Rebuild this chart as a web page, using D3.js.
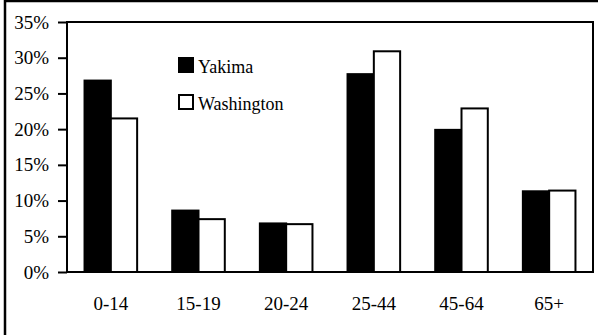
<!DOCTYPE html>
<html><head><meta charset="utf-8">
<script src="https://cdn.jsdelivr.net/npm/d3@7"></script>
<style>body{margin:0;background:#fff}svg{display:block}</style>
</head><body>
<svg id="c" width="598" height="335"></svg>
<script>
const categories = ["0-14","15-19","20-24","25-44","45-64","65+"];
const seriesNames = ["Yakima","Washington"];
const yakima = [26.8, 8.6, 6.8, 27.7, 19.9, 11.3];
const washington = [21.5, 7.4, 6.7, 30.9, 22.9, 11.4];
const yTicks = [0,5,10,15,20,25,30,35];

const FONT = "Liberation Serif";
const svg = d3.select("#c");
// outer frame
svg.append("rect").attr("x",5).attr("y",1).attr("width",700).attr("height",500)
  .attr("fill","none").attr("stroke","#000").attr("stroke-width",2.5);

const L=67, R=593, T=22, B=272;
const x = d3.scaleBand().domain(categories).range([L,R]).paddingInner(0.4).paddingOuter(0.2);
const xs = d3.scaleBand().domain(seriesNames).range([0,x.bandwidth()]);
const y = d3.scaleLinear().domain([0,35]).range([B,T]);

// plot frame
svg.append("rect").attr("x",L).attr("y",T).attr("width",R-L).attr("height",B-T)
  .attr("fill","none").attr("stroke","#000").attr("stroke-width",2);

const yAxis = svg.append("g").attr("transform",`translate(${L},0)`)
  .call(d3.axisLeft(y).tickValues(yTicks).tickFormat(d=>d+"%").tickSize(9).tickPadding(9));
yAxis.select(".domain").remove();
yAxis.attr("font-family",FONT).attr("font-size",19);
yAxis.selectAll(".tick line").attr("stroke","#000").attr("stroke-width",2);
yAxis.selectAll("text").attr("font-family",FONT).attr("font-size",19).attr("fill","#000");

const data = categories.map((c,i)=>({c, vals:[{s:"Yakima",v:yakima[i]},{s:"Washington",v:washington[i]}]}));
const g = svg.append("g");
data.forEach(d=>{
  d.vals.forEach(p=>{
    g.append("rect")
      .attr("x", x(d.c)+xs(p.s))
      .attr("y", y(p.v))
      .attr("width", xs.bandwidth())
      .attr("height", y(0)-y(p.v))
      .attr("fill", p.s==="Yakima" ? "#000" : "#fff")
      .attr("stroke","#000").attr("stroke-width",2);
  });
});
// baseline
svg.append("line").attr("x1",L).attr("x2",R).attr("y1",B).attr("y2",B).attr("stroke","#000").attr("stroke-width",2);

const xAxis = svg.append("g").attr("transform",`translate(0,${B})`)
  .call(d3.axisBottom(x).tickSize(0).tickPadding(25));
xAxis.select(".domain").remove();
xAxis.attr("font-family",FONT).attr("font-size",19);
xAxis.selectAll("text").attr("font-family",FONT).attr("font-size",19).attr("fill","#000");

// legend
const leg = svg.append("g");
seriesNames.forEach((s,i)=>{
  const ly = 58 + i*37;
  leg.append("rect").attr("x",179).attr("y",ly).attr("width",14).attr("height",14)
    .attr("fill", i===0?"#000":"#fff").attr("stroke","#000").attr("stroke-width",2);
  leg.append("text").attr("x",198).attr("y",ly+15).text(s)
    .attr("font-family",FONT).attr("font-size",18).attr("fill","#000");
});
</script>
</body></html>
